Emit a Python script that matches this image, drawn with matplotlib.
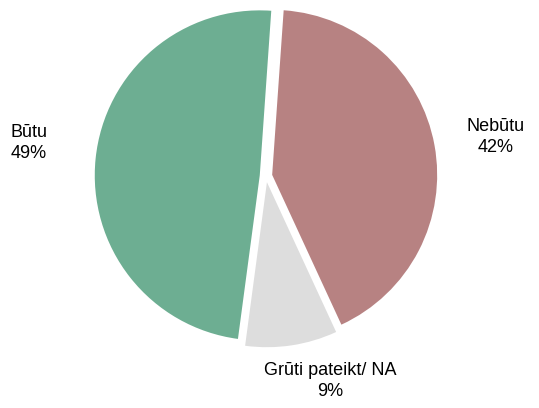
import matplotlib.pyplot as plt

plt.rcParams['font.family'] = ['Liberation Sans', 'DejaVu Sans']

labels = ['Nebūtu', 'Grūti pateikt/ NA', 'Būtu']
shares = [42, 9, 49]
colors = ['#b78282', '#dddddd', '#6dae92']

W, H = 539, 408
cx, cy, R = 266, 176, 165
lim = 1.3

fig = plt.figure(figsize=(W / 100, H / 100), dpi=100)
ax = fig.add_axes([(cx - R * lim) / W, 1 - (cy + R * lim) / H,
                   2 * R * lim / W, 2 * R * lim / H])
ax.pie(shares, colors=colors, startangle=86, counterclock=False,
       explode=[0.038, 0.038, 0.038],
       wedgeprops=dict(linewidth=0))
ax.set_xlim(-lim, lim)
ax.set_ylim(-lim, lim)
ax.set_aspect('equal')
ax.axis('off')

# label positions in pixels (x, y, ha)
pos = [(496, 137, 'center'), (330, 381, 'center'), (10, 143, 'left')]
for (x, y, ha), lab, v in zip(pos, labels, shares):
    fig.text(x / W, 1 - y / H, f'{lab}\n{v}%', ha=ha, va='center',
             multialignment='center', fontsize=13, linespacing=1.35)

fig.savefig('out.png', dpi=100)
